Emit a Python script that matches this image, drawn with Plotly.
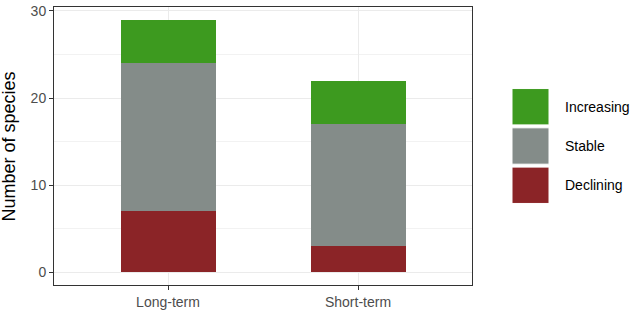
import plotly.graph_objects as go

categories = ["Long-term", "Short-term"]
series_names = ["Declining", "Stable", "Increasing"]
declining = [7, 3]
stable = [17, 14]
increasing = [5, 5]
colors = {"Declining": "#8b2427", "Stable": "#848c89", "Increasing": "#3d9a1f"}
y_ticks = [0, 10, 20, 30]

values = {"Declining": declining, "Stable": stable, "Increasing": increasing}

fig = go.Figure()
for name in series_names:
    fig.add_trace(go.Bar(x=[0, 1], y=values[name], name=name,
                         marker=dict(color=colors[name], line=dict(width=0)),
                         width=0.5, showlegend=False))

font = "Liberation Sans, Arial, sans-serif"
fig.update_layout(
    barmode="stack",
    width=633, height=313,
    margin=dict(l=54, r=161, t=3, b=27),
    plot_bgcolor="white", paper_bgcolor="white",
    font=dict(family=font, size=14, color="#4d4d4d"),
    xaxis=dict(range=[-0.6, 1.6], tickvals=[0, 1], ticktext=categories,
               showgrid=True, gridcolor="#ebebeb", gridwidth=1,
               ticks="outside", ticklen=4, tickcolor="#333333", tickwidth=1,
               showline=True, linecolor="#333333", linewidth=1, mirror=True,
               zeroline=False, tickfont=dict(size=14, color="#4d4d4d")),
    yaxis=dict(range=[-1.45, 30.45], tickvals=y_ticks,
               showgrid=True, gridcolor="#ebebeb", gridwidth=1,
               minor=dict(tickvals=[5, 15, 25], showgrid=True, gridcolor="#f2f2f2", gridwidth=1, ticks=""),
               ticks="outside", ticklen=4, tickcolor="#333333", tickwidth=1,
               showline=True, linecolor="#333333", linewidth=1, mirror=True,
               zeroline=False, tickfont=dict(size=14, color="#4d4d4d"),
               ticklabeloverflow="allow"),
)

# y-axis title
fig.add_annotation(xref="paper", yref="paper", x=(9 - 54) / 418, y=1 - (145 - 3) / 283,
                   text="Number of species", textangle=-90, showarrow=False,
                   xanchor="center", yanchor="middle",
                   font=dict(size=18, color="black", family=font))

# legend drawn manually with large keys
legend_order = ["Increasing", "Stable", "Declining"]
key_x0, key_x1 = 512, 549
key_top = 86
key_h = 40
for i, name in enumerate(legend_order):
    y0 = key_top + i * key_h
    fig.add_shape(type="rect", xref="paper", yref="paper",
                  x0=(key_x0 - 54) / 418, x1=(key_x1 - 54) / 418,
                  y0=1 - (y0 + key_h - 3 - 3) / 283, y1=1 - (y0 - 3) / 283,
                  fillcolor=colors[name], line=dict(color="white", width=1), layer="above")
    fig.add_annotation(xref="paper", yref="paper", x=(563 - 54) / 418,
                       y=1 - (y0 + (key_h - 3) / 2 - 3) / 283,
                       text=name, showarrow=False, xanchor="left", yanchor="middle",
                       font=dict(size=14, color="black", family=font))

fig.write_html("out.html")
